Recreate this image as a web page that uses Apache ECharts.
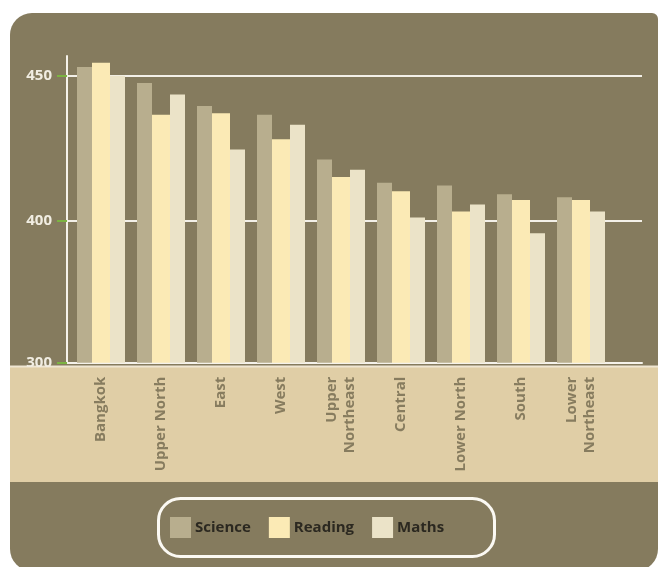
<!DOCTYPE html>
<html>
<head>
<meta charset="utf-8">
<script src="https://cdn.jsdelivr.net/npm/echarts@6/dist/echarts.min.js"></script>
<style>
html,body{margin:0;padding:0;background:#ffffff;}
#chart{width:658px;height:567px;}
</style>
</head>
<body>
<div id="chart"></div>
<script>
const categories = ['Bangkok', 'Upper North', 'East', 'West', 'Upper\nNortheast', 'Central', 'Lower North', 'South', 'Lower\nNortheast'];
const science = [453, 447.5, 439.5, 436.5, 421, 413, 412, 409, 408];
const reading = [454.5, 436.5, 437, 428, 415, 410, 403, 407, 407];
const maths = [450, 443.5, 424.5, 433, 417.5, 401, 405.5, 395.5, 403];
const seriesNames = ['Science', 'Reading', 'Maths'];
const yTickLabels = [300, 400, 450];

const colors = ['#b8ae8e', '#fbeab5', '#ebe3c8'];
const barWidths = [15, 18, 15];

const axisMin = 300, axisMax = 456.8, breakEnd = 350.76;
const breaks = [{ start: axisMin, end: breakEnd, gap: 0 }];

const chart = echarts.init(document.getElementById('chart'), null, { renderer: 'canvas' });

const gridTop = 56, gridBottom = 567 - 362.7;

const option = {
  animation: false,
  backgroundColor: 'transparent',
  graphic: [
    { type: 'rect', z: -100, shape: { x: 10, y: 13, width: 648, height: 558, r: [22, 6, 22, 22] }, style: { fill: '#857b5e' }, silent: true },
    { type: 'rect', z: -90, shape: { x: 10, y: 367, width: 648, height: 115 }, style: { fill: '#e0cea6' }, silent: true },
    { type: 'line', z: -80, shape: { x1: 10, y1: 366.5, x2: 658, y2: 366.5 }, style: { stroke: '#efe6d2', lineWidth: 2 }, silent: true },
    { type: 'rect', z: 10, shape: { x: 158.5, y: 498.5, width: 336, height: 58, r: 22 }, style: { fill: 'none', stroke: '#fbf9f3', lineWidth: 3 }, silent: true }
  ],
  legend: {
    left: 170, top: 517, padding: 0,
    itemWidth: 21, itemHeight: 21, itemGap: 18,
    icon: 'rect',
    data: seriesNames,
    textStyle: { color: '#2b2820', fontFamily: 'Open Sans', fontWeight: 'bold', fontSize: 15, width: 70, overflow: 'none', padding: [0, 0, 0, -1] }
  },
  grid: [
    { left: 67, right: 16, top: gridTop, bottom: gridBottom },
    { left: 71, width: 540, top: gridTop, bottom: gridBottom }
  ],
  xAxis: [
    { gridIndex: 0, type: 'category', data: [''], axisLine: { show: true, lineStyle: { color: '#f5f2ea', width: 2 } }, axisTick: { show: false }, axisLabel: { show: false }, splitLine: { show: false } },
    { gridIndex: 1, type: 'category', data: categories, axisLine: { show: false }, axisTick: { show: false },
      axisLabel: { rotate: 90, margin: 14, color: '#877c5f', fontFamily: 'Open Sans', fontWeight: 'bold', fontSize: 15, lineHeight: 18, interval: 0 } }
  ],
  yAxis: [
    { gridIndex: 0, type: 'value', min: axisMin, max: axisMax, interval: 50, breaks: breaks,
      breakArea: { show: false },
      axisLine: { show: true, lineStyle: { color: '#f5f2ea', width: 2 } },
      axisTick: { show: true, length: 10, customValues: yTickLabels, lineStyle: { color: '#7cb342', width: 2 } },
      splitLine: { show: true, lineStyle: { color: '#f3f0e8', width: 2 } },
      axisLabel: { margin: 15, color: '#f1ede2', fontFamily: 'Open Sans', fontWeight: 'bold', fontSize: 15,
        customValues: yTickLabels,
        formatter: function (v) { return yTickLabels.indexOf(Math.round(v * 100) / 100) >= 0 ? String(v) : ''; } } },
    { gridIndex: 1, type: 'value', min: axisMin, max: axisMax, interval: 50, breaks: breaks,
      breakArea: { show: false }, show: false, splitLine: { show: false } }
  ],
  series: [science, reading, maths].map(function (d, i) {
    return {
      name: seriesNames[i], type: 'bar', xAxisIndex: 1, yAxisIndex: 1,
      data: d, barWidth: barWidths[i], barGap: '0%',
      itemStyle: { color: colors[i] }
    };
  })
};
chart.setOption(option);
</script>
</body>
</html>
